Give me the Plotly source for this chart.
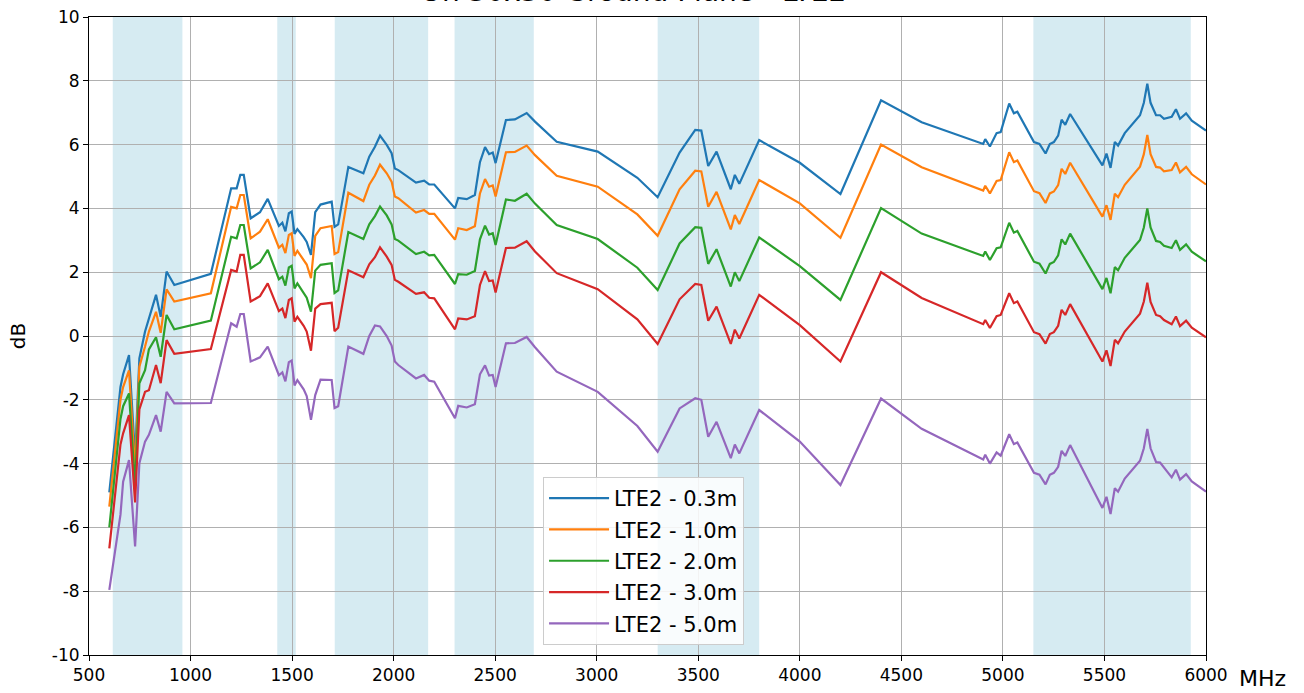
import plotly.graph_objects as go

freqs = [600, 655, 668, 697, 727, 748, 776, 795, 830, 853, 882, 920, 1100,
         1200, 1227, 1245, 1262, 1296, 1342, 1380, 1435, 1452, 1467, 1484, 1498,
         1512, 1526, 1557, 1572, 1593, 1614, 1640, 1695, 1709, 1727, 1777, 1851,
         1880, 1908, 1933, 1966, 1990, 2006, 2023, 2110, 2150, 2175, 2200, 2302,
         2318, 2360, 2400, 2425, 2450, 2470, 2488, 2502, 2553, 2597, 2655, 2696,
         2803, 3005, 3200, 3300, 3408, 3485, 3515, 3549, 3590, 3660, 3680, 3702,
         3800, 4000, 4200, 4400, 4600, 4903, 4913, 4936, 4969, 4989, 5031, 5054,
         5071, 5153, 5180, 5210, 5231, 5251, 5272, 5289, 5307, 5331, 5490, 5510,
         5530, 5551, 5567, 5600, 5675, 5694, 5711, 5727, 5754, 5774, 5793, 5831,
         5852, 5872, 5902, 5930, 6000]

lte2_03m = [-4.9, -1.6, -1.2, -0.6, -3.8, -0.7, 0.14, 0.55, 1.29, 0.6, 2.02, 1.6, 1.95,
            4.63, 4.63, 5.05, 5.05, 3.69, 3.88, 4.3, 3.45, 3.55, 3.28, 3.85, 3.9,
            3.2, 3.35, 3.1, 2.95, 2.54, 3.88, 4.12, 4.21, 3.42, 3.5, 5.3, 5.1,
            5.62, 5.93, 6.28, 5.99, 5.73, 5.25, 5.2, 4.81, 4.87, 4.75, 4.75, 4.0,
            4.33, 4.29, 4.42, 5.45, 5.92, 5.7, 5.75, 5.42, 6.77, 6.79, 6.99, 6.72,
            6.09, 5.78, 4.96, 4.35, 5.75, 6.46, 6.44, 5.33, 5.78, 4.6, 5.05, 4.77,
            6.14, 5.43, 4.45, 7.39, 6.7, 6.02, 6.17, 5.94, 6.36, 6.39, 7.29, 6.98,
            7.03, 6.08, 6.02, 5.72, 6.02, 6.08, 6.28, 6.78, 6.62, 6.96, 5.35, 5.72,
            5.27, 6.08, 5.97, 6.36, 6.92, 7.31, 7.91, 7.31, 6.92, 6.92, 6.81, 6.87,
            7.11, 6.81, 6.98, 6.75, 6.44]

lte2_10m = [-5.35, -2.0, -1.6, -1.08, -4.2, -0.96, -0.33, 0.14, 0.76, 0.1, 1.46, 1.08, 1.34,
            4.05, 4.0, 4.42, 4.42, 3.06, 3.27, 3.66, 2.77, 2.86, 2.6, 3.17, 3.22,
            2.51, 2.67, 2.4, 2.24, 1.81, 3.14, 3.38, 3.45, 2.57, 2.63, 4.49, 4.23,
            4.74, 5.03, 5.37, 5.1, 4.84, 4.37, 4.32, 3.87, 3.95, 3.83, 3.83, 3.02,
            3.38, 3.32, 3.44, 4.47, 4.92, 4.68, 4.72, 4.37, 5.76, 5.77, 5.97, 5.67,
            5.02, 4.68, 3.81, 3.14, 4.6, 5.18, 5.16, 4.05, 4.52, 3.34, 3.79, 3.51,
            4.89, 4.16, 3.08, 6.0, 5.29, 4.56, 4.71, 4.47, 4.86, 4.89, 5.76, 5.45,
            5.5, 4.54, 4.48, 4.17, 4.47, 4.53, 4.73, 5.24, 5.08, 5.43, 3.74, 4.1,
            3.64, 4.46, 4.35, 4.74, 5.31, 5.7, 6.3, 5.7, 5.3, 5.28, 5.16, 5.2,
            5.44, 5.13, 5.3, 5.07, 4.75]

lte2_20m = [-6.0, -2.6, -2.2, -1.8, -4.7, -1.48, -1.07, -0.42, -0.04, -0.65, 0.66, 0.21, 0.48,
            3.11, 3.06, 3.48, 3.48, 2.12, 2.31, 2.7, 1.78, 1.86, 1.58, 2.15, 2.2,
            1.49, 1.65, 1.37, 1.2, 0.76, 2.05, 2.23, 2.28, 1.35, 1.43, 3.26, 3.04,
            3.5, 3.76, 4.06, 3.78, 3.5, 3.04, 2.99, 2.57, 2.64, 2.53, 2.54, 1.63,
            1.94, 1.92, 2.04, 3.03, 3.46, 3.18, 3.22, 2.85, 4.28, 4.24, 4.46, 4.15,
            3.48, 3.04, 2.14, 1.44, 2.9, 3.41, 3.39, 2.26, 2.72, 1.55, 2.0, 1.72,
            3.09, 2.19, 1.13, 4.01, 3.21, 2.51, 2.65, 2.38, 2.75, 2.78, 3.55, 3.24,
            3.29, 2.33, 2.27, 1.96, 2.26, 2.32, 2.53, 3.03, 2.87, 3.21, 1.47, 1.82,
            1.34, 2.16, 2.06, 2.45, 3.01, 3.4, 4.0, 3.4, 2.98, 2.95, 2.83, 2.76,
            3.0, 2.7, 2.87, 2.64, 2.34]

lte2_30m = [-6.66, -3.4, -3.05, -2.48, -5.22, -2.3, -1.75, -1.7, -0.91, -1.48, -0.13, -0.56, -0.41,
            2.07, 2.02, 2.54, 2.54, 1.08, 1.25, 1.65, 0.78, 0.86, 0.56, 1.13, 1.18,
            0.45, 0.6, 0.32, 0.14, -0.46, 0.86, 1.0, 1.04, 0.15, 0.26, 2.06, 1.84,
            2.25, 2.47, 2.78, 2.49, 2.23, 1.76, 1.7, 1.32, 1.37, 1.2, 1.18, 0.21,
            0.55, 0.52, 0.62, 1.6, 2.03, 1.72, 1.74, 1.36, 2.76, 2.77, 2.97, 2.65,
            1.97, 1.47, 0.52, -0.25, 1.15, 1.63, 1.6, 0.48, 0.92, -0.25, 0.2, -0.08,
            1.29, 0.34, -0.8, 2.0, 1.19, 0.37, 0.5, 0.25, 0.62, 0.66, 1.34, 1.03,
            1.08, 0.12, 0.06, -0.24, 0.06, 0.12, 0.32, 0.82, 0.66, 1.0, -0.8, -0.45,
            -0.94, -0.12, -0.23, 0.14, 0.7, 1.08, 1.67, 1.07, 0.66, 0.62, 0.5, 0.37,
            0.61, 0.31, 0.48, 0.26, -0.04]

lte2_50m = [-7.96, -5.6, -4.57, -3.89, -6.6, -3.99, -3.31, -3.1, -2.48, -3.0, -1.75, -2.11, -2.1,
            0.4, 0.29, 0.69, 0.69, -0.8, -0.67, -0.33, -1.23, -1.14, -1.42, -0.82, -0.77,
            -1.55, -1.38, -1.67, -1.88, -2.63, -1.85, -1.37, -1.38, -2.26, -2.2, -0.33, -0.56,
            0.0, 0.33, 0.3, 0.0, -0.3, -0.8, -0.91, -1.33, -1.22, -1.4, -1.43, -2.58,
            -2.19, -2.24, -2.14, -1.2, -0.92, -1.24, -1.22, -1.6, -0.23, -0.22, -0.03, -0.35,
            -1.12, -1.75, -2.82, -3.63, -2.27, -1.95, -2.0, -3.16, -2.69, -3.83, -3.4, -3.68,
            -2.32, -3.31, -4.67, -1.96, -2.91, -3.87, -3.72, -4.0, -3.65, -3.75, -3.08, -3.39,
            -3.34, -4.29, -4.35, -4.65, -4.35, -4.29, -4.1, -3.6, -3.76, -3.42, -5.39, -5.04,
            -5.58, -4.77, -4.88, -4.47, -3.91, -3.52, -2.91, -3.52, -3.95, -3.97, -4.12, -4.43,
            -4.19, -4.5, -4.33, -4.56, -4.88]

series_names = ["LTE2 - 0.3m", "LTE2 - 1.0m", "LTE2 - 2.0m", "LTE2 - 3.0m", "LTE2 - 5.0m"]
series_values = [lte2_03m, lte2_10m, lte2_20m, lte2_30m, lte2_50m]
series_colors = ["#1f77b4", "#ff7f0e", "#2ca02c", "#d62728", "#9467bd"]

band_starts = [617, 1427, 1710, 2300, 3300, 5150]
band_ends = [960, 1518, 2170, 2690, 3800, 5925]

x_ticks = [500, 1000, 1500, 2000, 2500, 3000, 3500, 4000, 4500, 5000, 5500, 6000]
y_ticks = [-10, -8, -6, -4, -2, 0, 2, 4, 6, 8, 10]
y_tick_text = [str(v) for v in y_ticks]

title_text = "On 30x30 Ground Plane - LTE2"

FONT = "DejaVu Sans"

fig = go.Figure()
for name, vals, col in zip(series_names, series_values, series_colors):
    assert len(vals) == len(freqs)
    fig.add_trace(go.Scatter(x=freqs, y=vals, mode="lines", name=name,
                             legendgroup=name,
                             line=dict(color=col, width=2.2)))

for a, b in zip(band_starts, band_ends):
    fig.add_shape(type="rect", xref="x", yref="paper", x0=a, x1=b, y0=0, y1=1,
                  fillcolor="rgb(214,235,242)", line=dict(width=0), layer="below")

fig.add_annotation(text="MHz", xref="paper", yref="paper", x=1.0, y=0,
                   xshift=31, yshift=-23, xanchor="left", yanchor="middle",
                   showarrow=False, font=dict(family=FONT, size=22, color="black"))

fig.update_layout(
    width=1304, height=693,
    margin=dict(l=89, r=98, t=17, b=38, autoexpand=False),
    paper_bgcolor="white", plot_bgcolor="white",
    font=dict(family=FONT, size=17, color="black"),
    title=dict(text=title_text, x=0.4855, xanchor="center", yref="container",
               y=1.0, yanchor="bottom", pad=dict(b=-1), automargin=False,
               font=dict(family=FONT, size=28, color="black")),
    showlegend=True,
    legend=dict(x=0.4065, y=0.279, xanchor="left", yanchor="top",
                bgcolor="rgba(255,255,255,0.85)", bordercolor="#cccccc", borderwidth=1,
                font=dict(family=FONT, size=21, color="black"),
                tracegroupgap=1, itemwidth=60),
    xaxis=dict(range=[500, 6000], tickvals=x_ticks, showgrid=True, gridcolor="#b0b0b0",
               gridwidth=1, showline=True, linecolor="black", linewidth=1, mirror=True,
               ticks="outside", ticklen=5, tickcolor="black", zeroline=False,
               automargin=False, ticklabeloverflow="allow"),
    yaxis=dict(range=[-10, 10], tickvals=y_ticks, ticktext=y_tick_text, showgrid=True,
               gridcolor="#b0b0b0", gridwidth=1, showline=True, linecolor="black",
               linewidth=1, mirror=True, ticks="outside", ticklen=5, tickcolor="black",
               zeroline=False, automargin=False, ticklabeloverflow="allow",
               title=dict(text="dB", standoff=20, font=dict(family=FONT, size=20))),
)

fig.write_html("out.html", config={"displayModeBar": False},
               post_script="document.body.style.margin='0';document.body.style.overflow='hidden';")
